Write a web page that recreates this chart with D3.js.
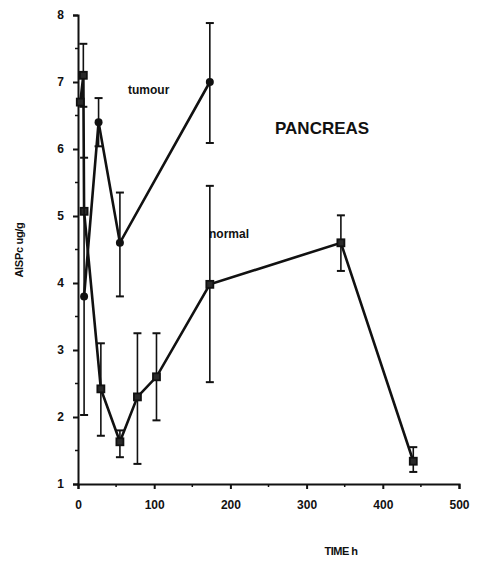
<!DOCTYPE html>
<html><head><meta charset="utf-8">
<script src="https://cdn.jsdelivr.net/npm/d3@7"></script>
<style>body{margin:0;background:#fff}svg{display:block}text{font-family:"Liberation Sans",Arial,sans-serif;font-weight:bold;fill:#111}</style>
</head><body>
<script>
// Normal pancreas series
const normalTime = [3, 7, 8, 30, 55, 78, 103, 173, 345, 440];
const normalValue = [6.7, 7.1, 5.07, 2.42, 1.63, 2.3, 2.6, 3.98, 4.6, 1.34];
const normalLow = [6.7, 6.63, 5.07, 1.72, 1.4, 1.3, 1.95, 2.52, 4.18, 1.18];
const normalHigh = [6.7, 7.57, 5.07, 3.1, 1.8, 3.25, 3.25, 5.45, 5.01, 1.55];
// Tumour series
const tumourTime = [8, 27, 55, 173];
const tumourValue = [3.8, 6.4, 4.6, 7.0];
const tumourLow = [2.03, 6.04, 3.8, 6.09];
const tumourHigh = [5.87, 6.76, 5.35, 7.88];
// Axis ticks
const xTicks = [0, 100, 200, 300, 400, 500];
const yTicks = [1, 2, 3, 4, 5, 6, 7, 8];

const W = 477, H = 570;
const svg = d3.select("body").append("svg").attr("width", W).attr("height", H);
const x = d3.scaleLinear().domain([0, 500]).range([78, 459]);
const y = d3.scaleLinear().domain([1, 8]).range([484, 15]);

// axes
const yAxis = d3.axisLeft(y).tickValues(yTicks).tickSize(5).tickPadding(9).tickFormat(d3.format("d"));
const gy = svg.append("g").attr("transform", `translate(${x(0)},0)`).call(yAxis);
const xAxis = d3.axisBottom(x).tickValues(xTicks).tickSize(5).tickPadding(11).tickFormat(d3.format("d"));
const gx = svg.append("g").attr("transform", `translate(0,${y(1)})`).call(xAxis);
[gy, gx].forEach(g => {
  g.select(".domain").attr("stroke", "#111").attr("stroke-width", 2);
  g.selectAll(".tick line").attr("stroke", "#111").attr("stroke-width", 2);
  g.selectAll(".tick text").style("font-size", "12px").style("font-weight", "bold").attr("fill", "#111");
});
// minor ticks
const yMinor = yTicks.slice(0, -1).map(v => v + 0.5);
svg.append("g").selectAll("line").data(yMinor).join("line")
  .attr("x1", x(0) - 3).attr("x2", x(0)).attr("y1", d => y(d)).attr("y2", d => y(d))
  .attr("stroke", "#111").attr("stroke-width", 1.5);
const xMinor = xTicks.slice(0, -1).map(v => v + 50);
svg.append("g").selectAll("line").data(xMinor).join("line")
  .attr("y1", y(1)).attr("y2", y(1) + 3).attr("x1", d => x(d)).attr("x2", d => x(d))
  .attr("stroke", "#111").attr("stroke-width", 1.5);

function series(times, vals, lows, highs, marker) {
  const data = times.map((t, i) => ({t, v: vals[i], lo: lows[i], hi: highs[i]}));
  const g = svg.append("g");
  // error bars
  const eb = data.filter(d => d.hi - d.lo > 0.01);
  g.selectAll("line.eb").data(eb).join("line").attr("class", "eb")
    .attr("x1", d => x(d.t)).attr("x2", d => x(d.t)).attr("y1", d => y(d.lo)).attr("y2", d => y(d.hi))
    .attr("stroke", "#111").attr("stroke-width", 1.6);
  ["lo", "hi"].forEach(k => {
    g.selectAll("line.cap" + k).data(eb).join("line").attr("class", "cap" + k)
      .attr("x1", d => x(d.t) - 4).attr("x2", d => x(d.t) + 4).attr("y1", d => y(d[k])).attr("y2", d => y(d[k]))
      .attr("stroke", "#111").attr("stroke-width", 2);
  });
  g.append("path").datum(data)
    .attr("d", d3.line().x(d => x(d.t)).y(d => y(d.v)))
    .attr("fill", "none").attr("stroke", "#111").attr("stroke-width", 2.6).attr("stroke-linejoin", "miter");
  if (marker === "square") {
    g.selectAll("rect").data(data).join("rect")
      .attr("x", d => x(d.t) - 3.5).attr("y", d => y(d.v) - 3.5).attr("width", 7).attr("height", 7)
      .attr("fill", "#2a2a2a").attr("stroke", "#111").attr("stroke-width", 1.8);
  } else {
    g.selectAll("path.m").data(data).join("path").attr("class", "m")
      .attr("transform", d => `translate(${x(d.t)},${y(d.v)})`)
      .attr("d", d3.symbol(d3.symbolCircle, 50))
      .attr("fill", "#111");
  }
}
series(normalTime, normalValue, normalLow, normalHigh, "square");
series(tumourTime, tumourValue, tumourLow, tumourHigh, "circle");

// labels
svg.append("text").attr("x", 128).attr("y", 94).style("font-size", "12px").text("tumour");
svg.append("text").attr("x", 209).attr("y", 238).style("font-size", "12px").text("normal");
svg.append("text").attr("x", 275).attr("y", 134).style("font-size", "17px").text("PANCREAS");
svg.append("text").attr("x", 341).attr("y", 555).attr("text-anchor", "middle").style("font-size", "11px").style("letter-spacing", "-0.5px").text("TIME h");
svg.append("text").attr("transform", "translate(23,250) rotate(-90)").attr("text-anchor", "middle").style("font-size", "11px").style("letter-spacing", "-0.3px").text("AlSPc ug/g");
</script>
</body></html>
